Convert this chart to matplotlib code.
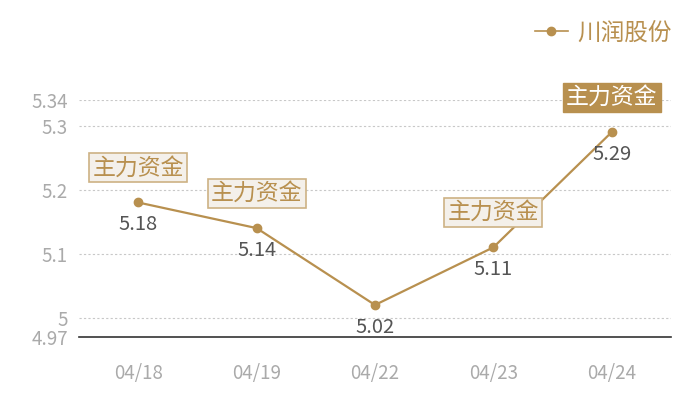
import matplotlib.pyplot as plt
from matplotlib.lines import Line2D

plt.rcParams['font.family'] = ['Noto Sans CJK SC', 'DejaVu Sans']
plt.rcParams['font.weight'] = 'light'

# data
dates = ['04/18', '04/19', '04/22', '04/23', '04/24']
prices = [5.18, 5.14, 5.02, 5.11, 5.29]
flags = ['主力资金', '主力资金', '', '主力资金', '主力资金']
highlight = [False, False, False, False, True]
yticks = [4.97, 5, 5.1, 5.2, 5.3, 5.34]
yticklabels = ['4.97', '5', '5.1', '5.2', '5.3', '5.34']
series_name = '川润股份'

gold = '#b8904f'

fig = plt.figure(figsize=(7, 4), dpi=100)
ax = fig.add_axes([79 / 700, 1 - 337 / 400, 592 / 700, 237 / 400])

x = list(range(len(dates)))
ax.plot(x, prices, color=gold, lw=1.6, marker='o', ms=6, zorder=3)

ax.set_xlim(-0.5, len(dates) - 0.5)
ax.set_ylim(4.97, 5.34)
ax.set_yticks(yticks)
ax.set_yticklabels(yticklabels)
ax.set_xticks(x)
ax.set_xticklabels(dates)
ax.tick_params(length=0, colors='#aaaaaa', labelsize=13.5)
ax.tick_params(axis='x', pad=19)
ax.tick_params(axis='y', pad=8)

for yv in yticks[1:]:
    ax.axhline(yv, color='#c8c8c8', lw=0.8, ls=(0, (2, 2)), zorder=1)

for s in ['top', 'right', 'left']:
    ax.spines[s].set_visible(False)
ax.spines['bottom'].set_color('#333333')
ax.spines['bottom'].set_linewidth(1.2)

for i, (p, f, h) in enumerate(zip(prices, flags, highlight)):
    ax.annotate(f'{p:.2f}', (i, p), xytext=(0, -16), textcoords='offset points',
                ha='center', va='center', fontsize=14.5, color='#555555', zorder=4)
    if f:
        if h:
            box = dict(boxstyle='square,pad=0.14', fc=gold, ec=gold, lw=1)
            tc = 'white'
        else:
            box = dict(boxstyle='square,pad=0.14', fc='#f4f0ea', ec='#cdb284', lw=1.2)
            tc = gold
        ax.annotate(f, (i, p), xytext=(0, 25), textcoords='offset points',
                    ha='center', va='center', fontsize=16.5, color=tc, bbox=box, zorder=5)

handle = Line2D([0], [0], color=gold, lw=1.2, marker='o', ms=6)
leg = fig.legend([handle], [series_name], loc='upper right', bbox_to_anchor=(0.99, 1.0),
                 frameon=False, fontsize=17, handlelength=1.4, handletextpad=0.4)
for t in leg.get_texts():
    t.set_color(gold)

fig.savefig('out.png', dpi=100)
